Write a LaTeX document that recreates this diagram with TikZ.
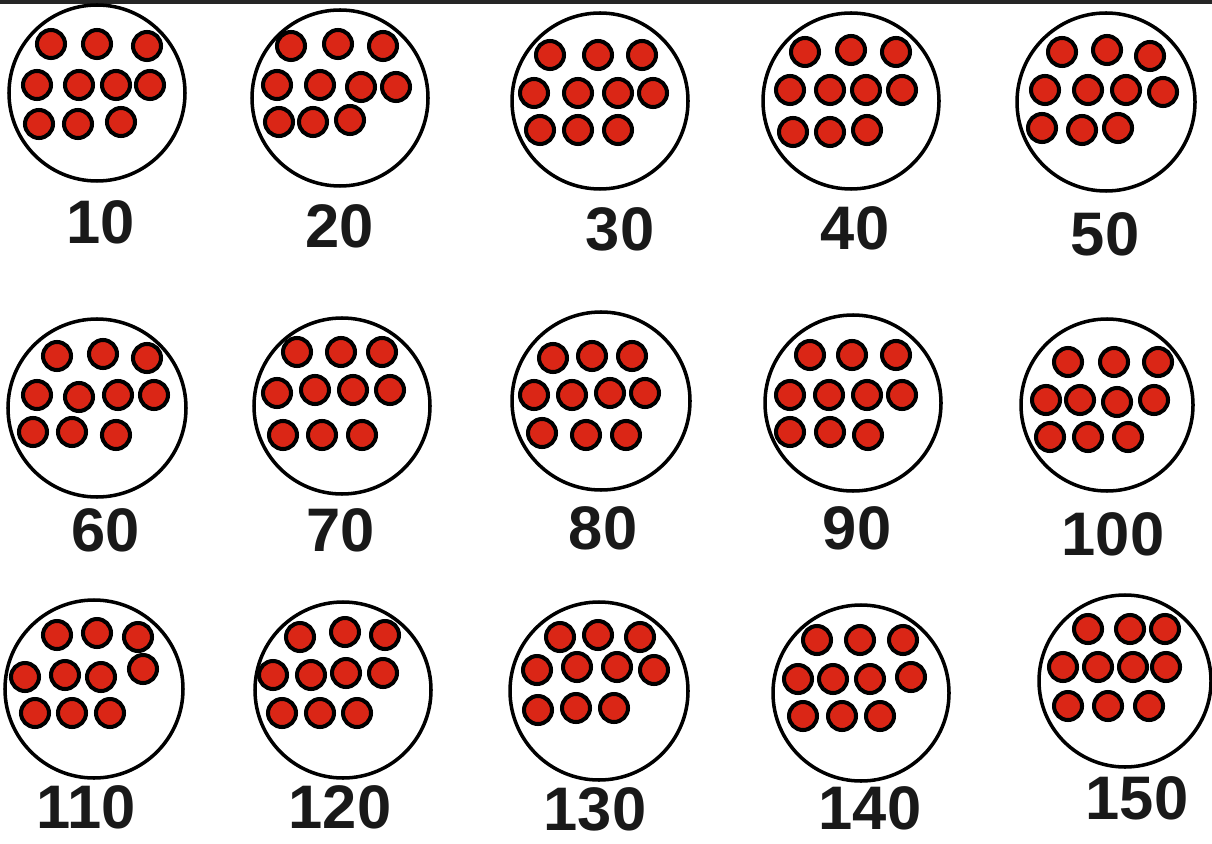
\documentclass[tikz,border=0pt]{standalone}
\usepackage{fontspec}
\setmainfont{Liberation Sans}

\definecolor{counterred}{RGB}{218,38,22}

\tikzset{
  ring/.style={draw=black, line width=2pt},
  counter/.style={draw=black, fill=counterred, line width=2.3pt},
  numlabel/.style={font=\fontsize{35}{35}\selectfont\bfseries, inner sep=0pt, text=black!90}
}

\begin{document}
\begin{tikzpicture}[x=0.02cm, y=-0.02cm]
  \useasboundingbox (0,0) rectangle (1212,844);

  % rule along the top edge
  \draw[line width=3pt, black!85] (0,1.5) -- (1212,1.5);

  % ---- first row ----
  % 10
  \draw[ring] (97,93) circle (88);
  \foreach \x/\y in {51/44,97/44,147/46,37/85,79/85,116/85,150/85,39/124,78/124,121/122}
    \draw[counter] (\x,\y) circle (14);
  \node[numlabel] (n10) at (101,222) {10};

  % 20
  \draw[ring] (340,98) circle (88);
  \foreach \x/\y in {291/46,338/44,383/46,277/85,320/85,361/87,396/87,279/122,313/122,350/120}
    \draw[counter] (\x,\y) circle (14);
  \node[numlabel] (n20) at (340,226) {20};

  % 30
  \draw[ring] (600,101) circle (88);
  \foreach \x/\y in {550/55,598/55,642/55,534/93,578/93,618/93,653/93,540/130,578/130,618/130}
    \draw[counter] (\x,\y) circle (14);
  \node[numlabel] (n30) at (620,229) {30};

  % 40
  \draw[ring] (851,101) circle (88);
  \foreach \x/\y in {805/52,851/50,896/52,790/90,830/90,866/90,902/90,793/132,830/132,867/130}
    \draw[counter] (\x,\y) circle (14);
  \node[numlabel] (n40) at (855,228) {40};

  % 50
  \draw[ring] (1106,102) circle (89);
  \foreach \x/\y in {1062/52,1107/50,1150/56,1045/90,1088/90,1126/90,1163/92,1042/128,1082/130,1118/128}
    \draw[counter] (\x,\y) circle (14);
  \node[numlabel] (n50) at (1105,234) {50};

  % ---- second row ----
  % 60
  \draw[ring] (97,408) circle (89);
  \foreach \x/\y in {57/356,103/354,147/358,37/395,79/397,118/395,154/395,33/432,72/432,116/435}
    \draw[counter] (\x,\y) circle (14);
  \node[numlabel] (n60) at (106,530) {60};

  % 70
  \draw[ring] (342,406) circle (88);
  \foreach \x/\y in {297/352,341/352,382/352,277/393,315/390,353/390,390/390,283/435,322/435,362/435}
    \draw[counter] (\x,\y) circle (14);
  \node[numlabel] (n70) at (341,530) {70};

  % 80
  \draw[ring] (601,401) circle (89);
  \foreach \x/\y in {553/358,592/356,632/356,534/395,572/395,610/393,645/393,542/433,586/435,626/435}
    \draw[counter] (\x,\y) circle (14);
  \node[numlabel] (n80) at (603,528) {80};

  % 90
  \draw[ring] (853,403) circle (88);
  \foreach \x/\y in {810/355,852/355,896/355,790/395,829/395,867/395,902/395,790/432,830/432,868/435}
    \draw[counter] (\x,\y) circle (14);
  \node[numlabel] (n90) at (857,528) {90};

  % 100
  \draw[ring] (1107,405) circle (86);
  \foreach \x/\y in {1068/362,1114/362,1158/362,1046/400,1080/400,1117/402,1154/400,1050/437,1088/437,1128/437}
    \draw[counter] (\x,\y) circle (14);
  \node[numlabel] (n100) at (1113,534) {100};

  % ---- third row ----
  % 110
  \draw[ring] (94,689) circle (89);
  \foreach \x/\y in {57/635,97/633,138/637,25/677,65/675,101/677,143/669,35/713,72/713,110/713}
    \draw[counter] (\x,\y) circle (14);
  \node[numlabel] (n110) at (86,807) {110};

  % 120
  \draw[ring] (343,690) circle (88);
  \foreach \x/\y in {300/637,345/632,385/635,273/675,311/675,346/673,383/673,282/713,320/713,357/713}
    \draw[counter] (\x,\y) circle (14);
  \node[numlabel] (n120) at (340,807) {120};

  % 130
  \draw[ring] (599,691) circle (89);
  \foreach \x/\y in {560/637,598/635,640/637,537/670,577/667,617/667,654/670,538/710,576/708,614/708}
    \draw[counter] (\x,\y) circle (14);
  \node[numlabel] (n130) at (595,809) {130};

  % 140
  \draw[ring] (861,693) circle (88);
  \foreach \x/\y in {817/640,860/640,903/640,798/679,833/679,870/679,911/677,803/716,842/716,880/716}
    \draw[counter] (\x,\y) circle (14);
  \node[numlabel] (n140) at (870,808) {140};

  % 150
  \draw[ring] (1125,681) circle (86);
  \foreach \x/\y in {1088/629,1130/629,1165/629,1063/667,1098/667,1133/667,1166/667,1068/706,1108/706,1149/706}
    \draw[counter] (\x,\y) circle (14);
  \node[numlabel] (n150) at (1137,798) {150};
\end{tikzpicture}
\end{document}
